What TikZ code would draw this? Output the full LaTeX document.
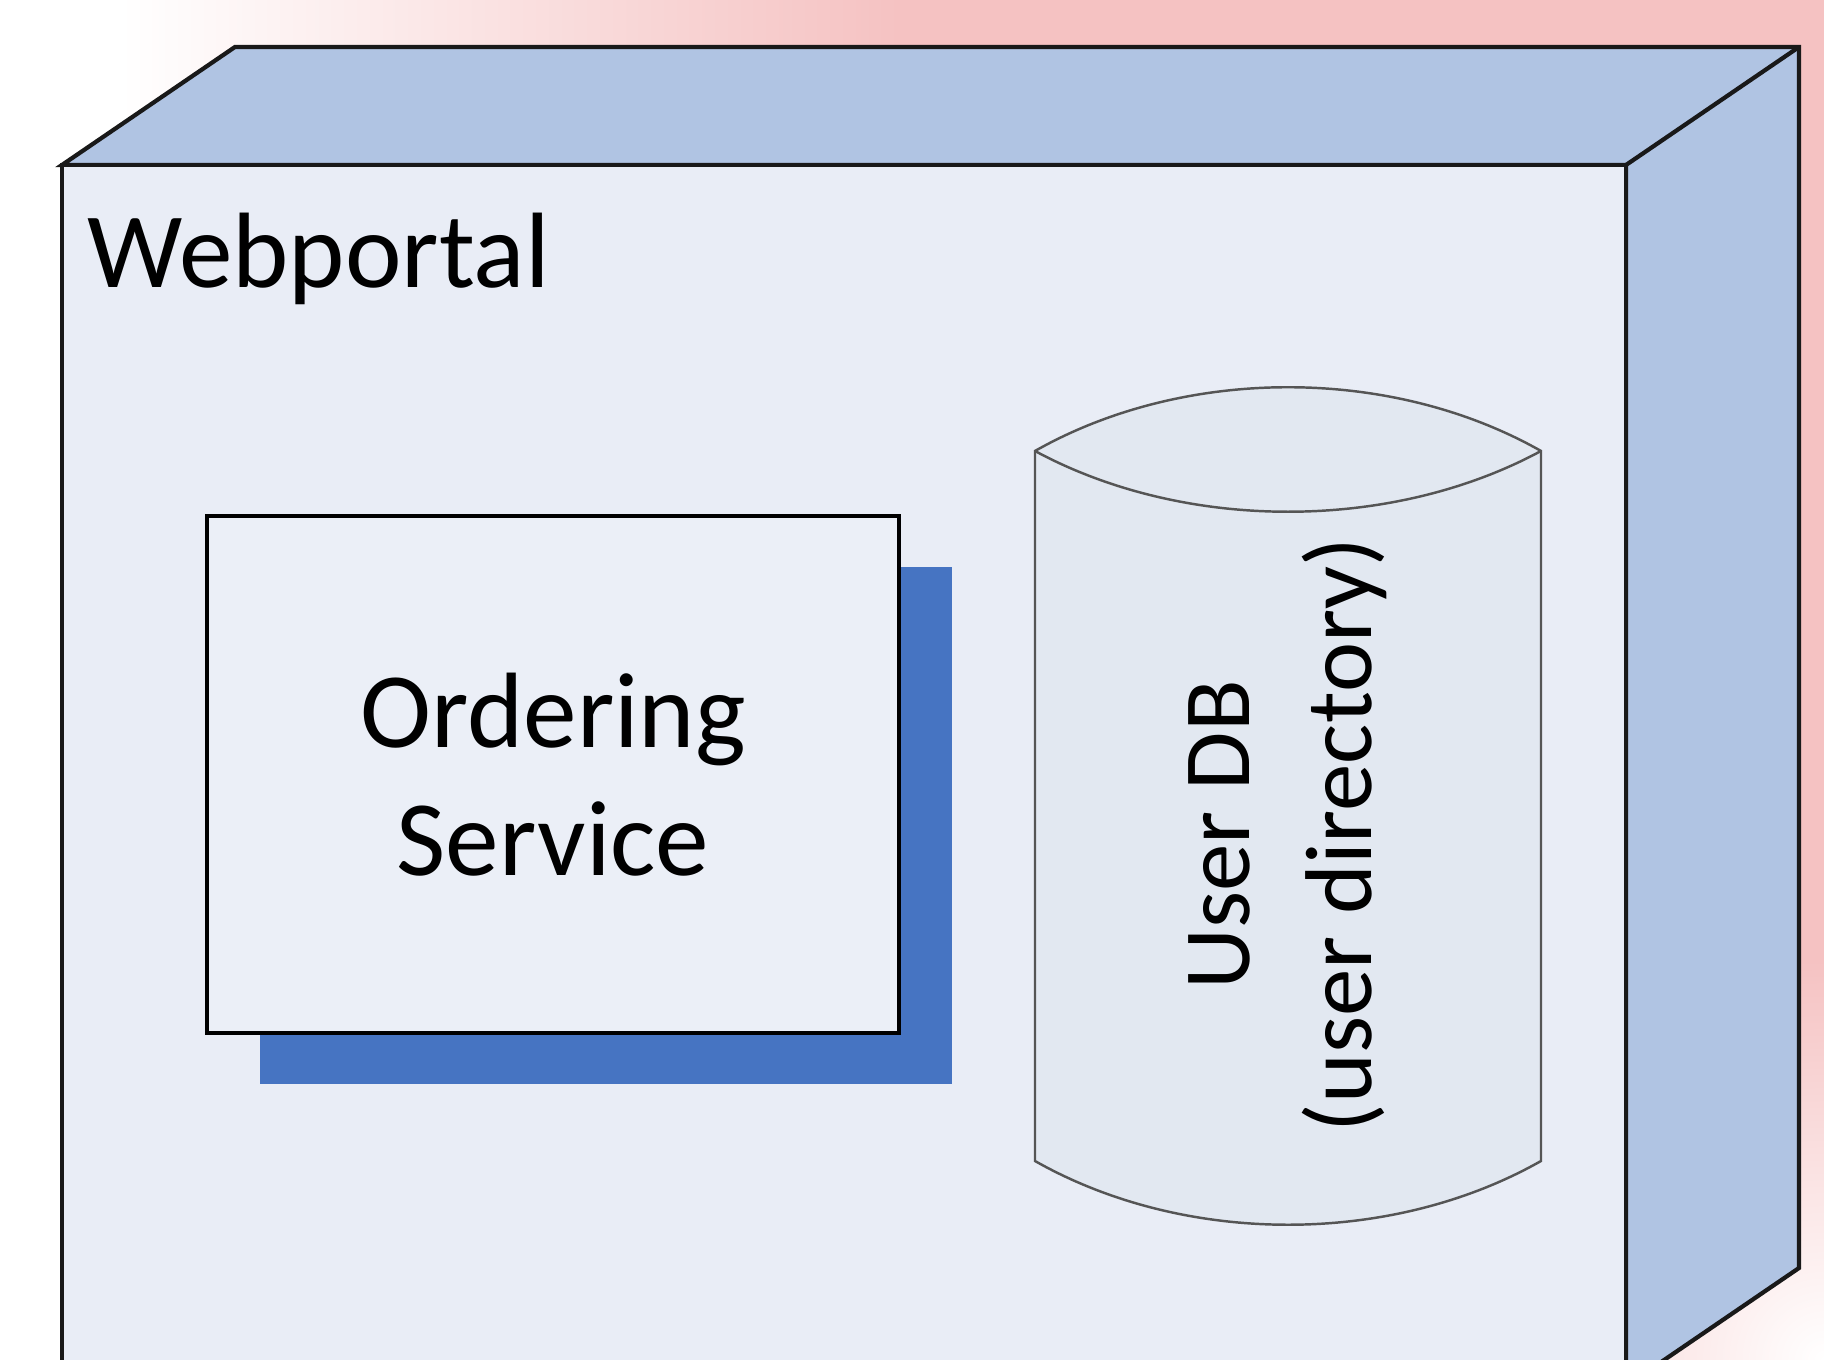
\documentclass[tikz,border=0pt]{standalone}
\usepackage{fontspec}
\setmainfont{Carlito}
\usetikzlibrary{shadows}
\definecolor{bgpink}{HTML}{F5C2C2}
\definecolor{faceblue}{HTML}{E9EDF6}
\definecolor{sideblue}{HTML}{B0C4E3}
\definecolor{shadowblue}{HTML}{4674C2}
\definecolor{compfill}{HTML}{EBEFF7}
\definecolor{canfill}{HTML}{E2E8F1}
\definecolor{canline}{HTML}{555555}
\tikzset{
  nodeedge/.style={draw=black!90, line width=1.2pt, line join=miter},
  canedge/.style={draw=canline, line width=0.7pt},
  comp/.style={draw=black, line width=0.9pt, fill=compfill, minimum width=6.92cm, minimum height=5.17cm, align=center, font=\fontsize{30.5}{36.5}\selectfont}
}
\begin{document}
\begin{tikzpicture}
\useasboundingbox (0,0) rectangle (18.24,13.60);
\clip (0,0) rectangle (18.24,13.60);
% background
\fill[bgpink] (0,0) rectangle (18.24,13.60);
\shade[left color=white, right color=bgpink] (1.2,0) rectangle (9,13.60);
\fill[white] (0,0) rectangle (1.2,13.60);
\shade[inner color=white, outer color=bgpink] (18.24,0) circle (4);
% the webportal node (3d box)
\coordinate (fl) at (0.62,11.95);
\coordinate (fr) at (16.26,11.95);
\draw[nodeedge, fill=sideblue] (fl) -- ++(1.73,1.18) coordinate(bl) -- ++(15.64,0) coordinate(br) -- ++(0,-12.21) coordinate(bb) -- ++(-1.73,-1.18) -- (fr) -- cycle;
\draw[nodeedge] (fr) -- (br);
\draw[nodeedge, fill=faceblue] (0.62,-0.6) rectangle (fr);
\node[anchor=base west, inner sep=0pt, font=\fontsize{30.5}{36.5}\selectfont] (webportal) at (0.87,10.72) {Webportal};
% component
\node[comp, drop shadow={opacity=1, fill=shadowblue, shadow xshift=0.53cm, shadow yshift=-0.51cm}] (ordering) at (5.53,5.855) {Ordering\\Service};
% database
\coordinate (cantl) at (10.35,9.09);
\coordinate (cantr) at (15.41,9.09);
\coordinate (canbl) at (10.35,1.99);
\coordinate (canbr) at (15.41,1.99);
\draw[canedge, fill=canfill] (canbl) -- (cantl) .. controls +(1.5,0.85) and +(-1.5,0.85) .. (cantr) -- (canbr) .. controls +(-1.5,-0.85) and +(1.5,-0.85) .. (canbl) -- cycle;
\draw[canedge] (cantl) .. controls +(1.5,-0.81) and +(-1.5,-0.81) .. (cantr);
\node[rotate=90, align=center, font=\fontsize{27}{34.7}\selectfont] (userdb) at (12.88,5.25) {User DB\\(user directory)};
\end{tikzpicture}
\end{document}
